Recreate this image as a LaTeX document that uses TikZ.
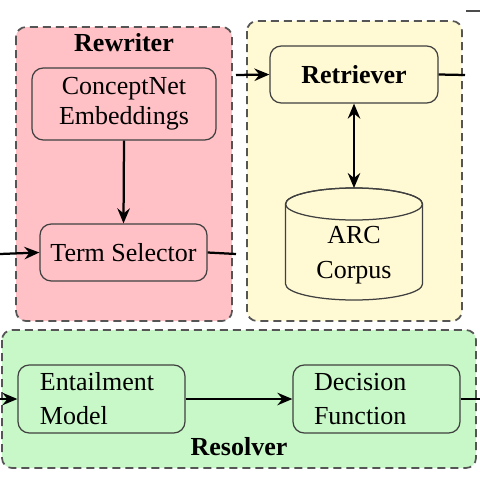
\documentclass[tikz,border=0pt]{standalone}
\usepackage{fontspec}
\setmainfont{Liberation Serif}
\usetikzlibrary{arrows.meta}
\definecolor{rewfill}{RGB}{255,193,197}
\definecolor{retfill}{RGB}{255,249,212}
\definecolor{resfill}{RGB}{200,248,200}
\definecolor{grpline}{RGB}{85,85,85}
\begin{document}
\begin{tikzpicture}[x=0.4pt,y=-0.4pt,
  font=\fontsize{10.4}{12}\selectfont,
  group/.style={draw=grpline, line width=0.7pt, dash pattern=on 3.2pt off 2pt, rounded corners=4pt},
  box/.style={draw=black!75, line width=0.5pt, rounded corners=4.5pt, align=center, inner sep=0pt},
  lbox/.style={box, align=left, text width=#1, font=\fontsize{10.4}{13.6}\selectfont},
  conn/.style={line width=0.9pt, -{Stealth[length=6pt,width=5pt,inset=2pt]}},
  biconn/.style={line width=0.9pt, {Stealth[length=6pt,width=5pt,inset=2pt]}-{Stealth[length=6pt,width=5pt,inset=2pt]}},
  plain/.style={line width=0.9pt},
  ttl/.style={font=\fontsize{10.4}{12}\selectfont\bfseries}
]
\useasboundingbox (0,0) rectangle (480,480);
% groups
\draw[group, fill=rewfill] (16,27) rectangle (232,321);
\draw[group, fill=retfill] (247,21) rectangle (462,321);
\draw[group, fill=resfill] (2,330) rectangle (476,468);
\node[ttl] (rewt) at (124,43) {Rewriter};
\node[ttl] (rest) at (239,447) {Resolver};
% rewriter nodes
\node[box, minimum width=73.6pt, minimum height=28.8pt] (cne) at (124,104) {ConceptNet\\Embeddings};
\node[box, minimum width=66.8pt, minimum height=22.8pt] (ts) at (123.5,252.5) {Term Selector};
% retriever nodes
\node[box, minimum width=67.2pt, minimum height=22.8pt, font=\fontsize{10.4}{12}\selectfont\bfseries] (retr) at (354,74.5) {Retriever};
\draw[line width=0.5pt, draw=black!75, fill=retfill]
  (285.5,204) -- (285.5,284) arc[start angle=180, end angle=0, x radius=68.5, y radius=16] -- (422.5,204)
  arc[start angle=0, end angle=-180, x radius=68.5, y radius=16] -- cycle;
\draw[line width=0.5pt, draw=black!75] (354,204) ellipse[x radius=68.5, y radius=16];
\node[align=center, inner sep=0pt] (cyl) at (354,255.5) {ARC\\[2pt]Corpus};
\coordinate (cyltop) at (354,188);
% resolver nodes
\node[lbox=66.8pt, minimum height=27.2pt] (ent) at (101.5,399) {\hspace*{8.8pt}Entailment\\\hspace*{8.8pt}Model};
\node[lbox=66.8pt, minimum height=27.2pt] (dec) at (376.5,399) {\hspace*{8.4pt}Decision\\\hspace*{8.4pt}Function};
% free ends
\coordinate (tsin) at (0,254);
\coordinate (tsout) at (236,254);
\coordinate (retin) at (236,75);
\coordinate (retout) at (465,75);
\coordinate (entin) at (0,399);
\coordinate (decout) at (480,399);
\coordinate (frA) at (466,11);
\coordinate (frB) at (480,11);
% connectors
\draw[conn] (tsin) -- (ts.west);
\draw[plain] (ts.east) -- (tsout);
\draw[conn] (cne.south) -- (ts.north);
\draw[conn] (retin) -- (retr.west);
\draw[plain] (retr.east) -- (retout);
\draw[biconn] (retr.south) -- (cyltop);
\draw[conn] (entin) -- (ent.west);
\draw[conn] (ent.east) -- (dec.west);
\draw[plain] (dec.east) -- (decout);
\draw[plain, draw=black!70] (frA) -- (frB);
\end{tikzpicture}
\end{document}
